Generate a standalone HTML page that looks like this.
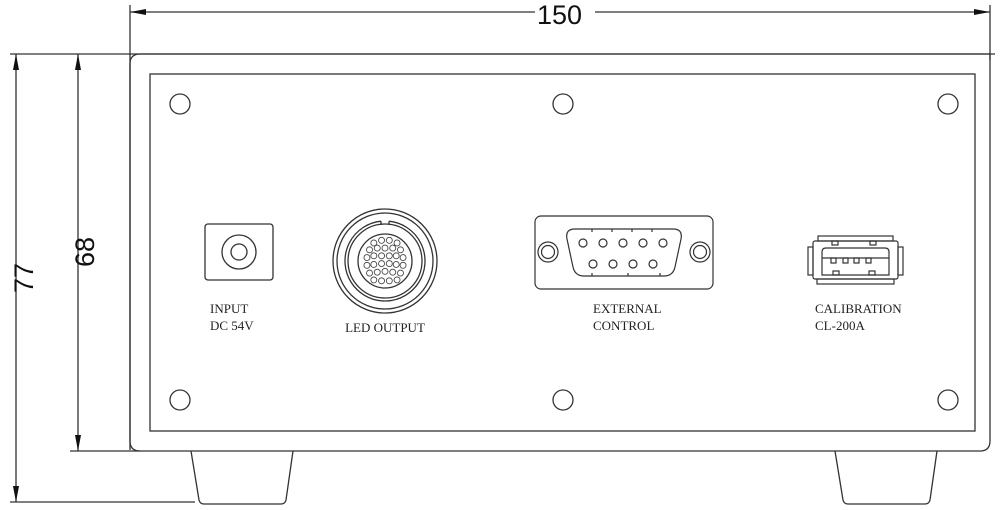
<!DOCTYPE html>
<html><head><meta charset="utf-8"><style>
html,body{margin:0;padding:0;background:#fff;}
svg{display:block}
text{font-family:"Liberation Serif",serif;font-size:13px;fill:#222}
</style></head><body>
<svg width="1000" height="510" viewBox="0 0 1000 510" xmlns="http://www.w3.org/2000/svg">
<g stroke="#333" stroke-width="1.3" fill="none">
<line x1="130" y1="5" x2="130" y2="450"/>
<line x1="990" y1="5" x2="990" y2="60"/>
<line x1="130" y1="12" x2="535" y2="12"/>
<line x1="595" y1="12" x2="990" y2="12"/>
<line x1="10" y1="54" x2="995" y2="54"/>
<line x1="16" y1="54" x2="16" y2="502"/>
<line x1="78" y1="54" x2="78" y2="451"/>
<line x1="70" y1="451" x2="140" y2="451"/>
<line x1="10" y1="502" x2="195" y2="502"/>
<path d="M140 54 H990 V441 Q990 451 980 451 H140 Q130 451 130 441 V64 Q130 54 140 54 Z"/>
<rect x="150" y="74" width="825" height="357"/>
<path d="M191 451 L199 500 Q200 504 204 504 H281 Q285 504 286 500 L293 451"/>
<path d="M835 451 L843 500 Q844 504 848 504 H925 Q929 504 930 500 L937 451"/>
<circle cx="180" cy="104" r="10"/><circle cx="563" cy="104" r="10"/><circle cx="948" cy="104" r="10"/>
<circle cx="180" cy="400" r="10"/><circle cx="563" cy="400" r="10"/><circle cx="948" cy="400" r="10"/>
<rect x="205" y="224" width="68" height="56" rx="3"/>
<circle cx="239" cy="252" r="17"/><circle cx="239" cy="252" r="8"/>
<circle cx="385" cy="261" r="52"/><circle cx="385" cy="261" r="48"/>
<path d="M381 221.2 A40 40 0 1 0 389 221.2"/>
<path d="M381 221.2 V225 M389 221.2 V225"/>
<circle cx="385" cy="261" r="37"/>
<circle cx="385" cy="261" r="27"/>
</g>
<g stroke="#444" stroke-width="1" fill="none" transform="translate(385,261) scale(0.86) translate(-385,-261)">
<circle cx="372" cy="240" r="3.5"/><circle cx="381" cy="237" r="3.5"/><circle cx="390" cy="237" r="3.5"/><circle cx="399" cy="240" r="3.5"/>
<circle cx="367" cy="248" r="3.5"/><circle cx="376" cy="246" r="3.5"/><circle cx="385" cy="246" r="3.5"/><circle cx="394" cy="246" r="3.5"/><circle cx="403" cy="248" r="3.5"/>
<circle cx="364" cy="257" r="3.5"/><circle cx="372" cy="255" r="3.5"/><circle cx="381" cy="255" r="3.5"/><circle cx="390" cy="255" r="3.5"/><circle cx="398" cy="255" r="3.5"/><circle cx="406" cy="257" r="3.5"/>
<circle cx="364" cy="266" r="3.5"/><circle cx="372" cy="265" r="3.5"/><circle cx="381" cy="264" r="3.5"/><circle cx="390" cy="264" r="3.5"/><circle cx="398" cy="265" r="3.5"/><circle cx="406" cy="266" r="3.5"/>
<circle cx="367" cy="275" r="3.5"/><circle cx="376" cy="274" r="3.5"/><circle cx="385" cy="273" r="3.5"/><circle cx="394" cy="274" r="3.5"/><circle cx="403" cy="275" r="3.5"/>
<circle cx="372" cy="283" r="3.5"/><circle cx="381" cy="284" r="3.5"/><circle cx="390" cy="284" r="3.5"/><circle cx="399" cy="283" r="3.5"/>
</g>
<g stroke="#333" stroke-width="1.2" fill="none">
<rect x="535" y="216" width="178" height="73" rx="6"/>
<circle cx="548" cy="252" r="10"/><circle cx="548" cy="252" r="6.5"/>
<circle cx="700" cy="252" r="10"/><circle cx="700" cy="252" r="6.5"/>
<path d="M575 229 H673 Q683 229 681 239 L675 267 Q673 276 664 276 H584 Q575 276 573 267 L567 239 Q565 229 575 229 Z"/>
<path d="M592 229 V232 M612 229 V232 M632 229 V232 M652 229 V232 M592 276 V273 M628 276 V273 M660 276 V273"/>
<circle cx="583" cy="243" r="4"/><circle cx="603" cy="243" r="4"/><circle cx="623" cy="243" r="4"/><circle cx="643" cy="243" r="4"/><circle cx="663" cy="243" r="4"/>
<circle cx="593" cy="264" r="4"/><circle cx="613" cy="264" r="4"/><circle cx="633" cy="264" r="4"/><circle cx="653" cy="264" r="4"/>
<rect x="818" y="236" width="75" height="5"/>
<rect x="813" y="241" width="85" height="38" rx="2"/>
<rect x="808" y="247" width="5" height="28"/><rect x="898" y="247" width="5" height="28"/>
<rect x="817" y="279" width="77" height="5"/>
<path d="M822 252 Q822 248 826 248 H885 Q889 248 889 252 V275 H822 Z"/>
<line x1="822" y1="258" x2="889" y2="258"/>
<rect x="831" y="258" width="5" height="5"/><rect x="843" y="258" width="5" height="5"/><rect x="854" y="258" width="5" height="5"/><rect x="866" y="258" width="5" height="5"/>
<rect x="833" y="271" width="6" height="4"/><rect x="869" y="271" width="6" height="4"/>
<rect x="832" y="241" width="6" height="4"/><rect x="870" y="241" width="6" height="4"/>
</g>
<g fill="#111">
<polygon points="130,12 146,9 146,15"/>
<polygon points="990,12 974,9 974,15"/>
<polygon points="16,54 13,70 19,70"/>
<polygon points="16,502 13,486 19,486"/>
<polygon points="78,54 75,70 81,70"/>
<polygon points="78,451 75,435 81,435"/>
</g>
<text x="537" y="24" style="font-family:'Liberation Sans',sans-serif;font-size:27px;fill:#111">150</text>
<text transform="translate(33,278) rotate(-90)" text-anchor="middle" style="font-family:'Liberation Sans',sans-serif;font-size:27px;fill:#111">77</text>
<text transform="translate(94,252) rotate(-90)" text-anchor="middle" style="font-family:'Liberation Sans',sans-serif;font-size:27px;fill:#111">68</text>
<text x="210" y="313">INPUT</text>
<text x="210" y="330">DC 54V</text>
<text x="385" y="332" text-anchor="middle">LED OUTPUT</text>
<text x="593" y="313">EXTERNAL</text>
<text x="593" y="330">CONTROL</text>
<text x="815" y="313">CALIBRATION</text>
<text x="815" y="330">CL-200A</text>
</svg>
</body></html>
